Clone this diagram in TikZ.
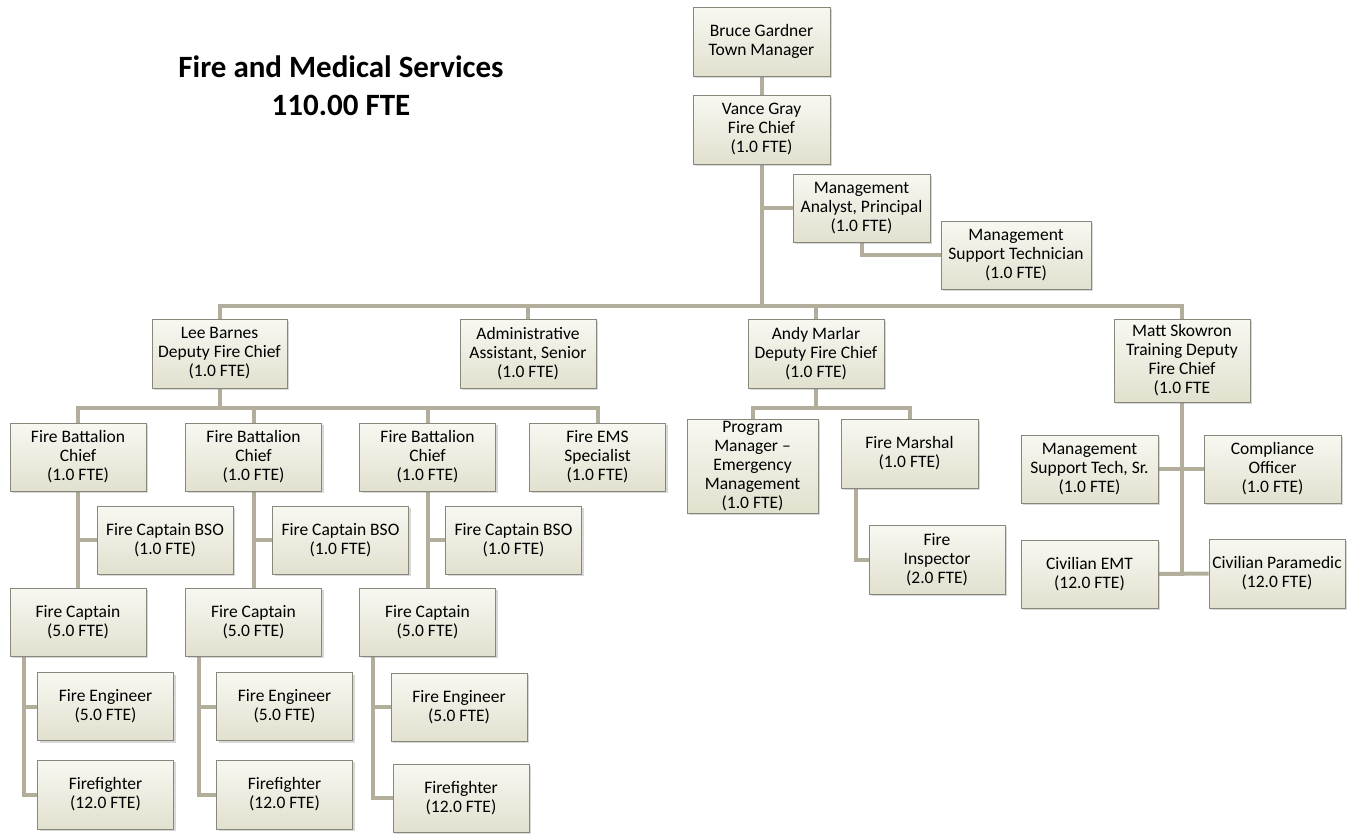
\documentclass[tikz,border=0pt]{standalone}
\usepackage{fontspec}
\setmainfont{Carlito}
\usetikzlibrary{shadows,backgrounds}

\definecolor{linetan}{RGB}{178,174,155}
\definecolor{boxtop}{RGB}{248,248,242}
\definecolor{boxbot}{RGB}{226,224,206}
\definecolor{boxedge}{RGB}{135,135,124}

\begin{document}
\begin{tikzpicture}[x=1pt,y=-1pt,
  post/.style={draw=boxedge,line width=0.8pt,top color=boxtop,bottom color=boxbot,
    minimum width=136pt,minimum height=68pt,inner sep=0pt,align=center,
    font=\fontsize{17.5}{19}\selectfont,
    drop shadow={shadow xshift=2pt,shadow yshift=-2pt,opacity=0.3}},
  link/.style={draw=linetan,line width=4pt},
  heading/.style={font=\bfseries\fontsize{31}{37}\selectfont,anchor=base,inner sep=0pt}]
  \useasboundingbox (0,0) rectangle (1349,833);
  \node[heading] (title) at (341,77) {Fire and Medical Services};
  \node[heading] (titlefte) at (341,115) {110.00 FTE};
  % top of the chart
  \node[post,minimum width=137pt,minimum height=69pt] (bruce) at (761.5,41.5) {Bruce Gardner\\Town Manager};
  \node[post,minimum width=137pt,minimum height=69pt] (vance) at (761.5,129.5) {Vance Gray\\Fire Chief\\(1.0 FTE)};
  \node[post,minimum width=137pt] (analyst) at (861.5,208) {Management\\Analyst, Principal\\(1.0 FTE)};
  \node[post,minimum width=150pt] (suptech) at (1016,255) {Management\\Support Technician\\(1.0 FTE)};
  % deputies
  \node[post,minimum width=135pt,minimum height=69pt] (lee) at (219.5,353.5) {Lee Barnes\\Deputy Fire Chief\\(1.0 FTE)};
  \node[post,minimum height=69pt] (admin) at (528,353.5) {Administrative\\Assistant, Senior\\(1.0 FTE)};
  \node[post,minimum height=69pt] (andy) at (816,353.5) {Andy Marlar\\Deputy Fire Chief\\(1.0 FTE)};
  \node[post,minimum height=83pt] (matt) at (1182,360.5) {Matt Skowron\\Training Deputy\\Fire Chief\\(1.0 FTE};
  % battalions
  \node[post] (chief1) at (78,457) {Fire Battalion\\Chief\\(1.0 FTE)};
  \node[post] (chief2) at (253.5,457) {Fire Battalion\\Chief\\(1.0 FTE)};
  \node[post] (chief3) at (427.5,457) {Fire Battalion\\Chief\\(1.0 FTE)};
  \node[post] (ems) at (597.5,457) {Fire EMS\\Specialist\\(1.0 FTE)};
  \node[post] (bso1) at (165,540) {Fire Captain BSO\\(1.0 FTE)};
  \node[post] (bso2) at (340.5,540) {Fire Captain BSO\\(1.0 FTE)};
  \node[post] (bso3) at (513.5,540) {Fire Captain BSO\\(1.0 FTE)};
  \node[post] (capt1) at (78,622) {Fire Captain\\(5.0 FTE)};
  \node[post] (capt2) at (253.5,622) {Fire Captain\\(5.0 FTE)};
  \node[post] (capt3) at (427.5,622) {Fire Captain\\(5.0 FTE)};
  \node[post] (eng1) at (105.5,706.5) {Fire Engineer\\(5.0 FTE)};
  \node[post] (eng2) at (284.5,706.5) {Fire Engineer\\(5.0 FTE)};
  \node[post] (eng3) at (459,707) {Fire Engineer\\(5.0 FTE)};
  \node[post,minimum height=69pt] (ff1) at (105.5,794.5) {Firefighter\\(12.0 FTE)};
  \node[post,minimum height=69pt] (ff2) at (284.5,794.5) {Firefighter\\(12.0 FTE)};
  \node[post] (ff3) at (461,798) {Firefighter\\(12.0 FTE)};
  % prevention
  \node[post,minimum width=131pt,minimum height=94pt] (progmgr) at (752.5,466) {Program\\Manager –\\Emergency\\Management\\(1.0 FTE)};
  \node[post,minimum width=137pt,minimum height=69pt] (marshal) at (909.5,453.5) {Fire Marshal\\(1.0 FTE)};
  \node[post,minimum height=69pt] (inspector) at (937,559.5) {Fire\\Inspector\\(2.0 FTE)};
  % training
  \node[post,minimum width=137pt] (suptechsr) at (1089.5,469) {Management\\Support Tech, Sr.\\(1.0 FTE)};
  \node[post,minimum width=137pt] (compliance) at (1272.5,469) {Compliance\\Officer\\(1.0 FTE)};
  \node[post,minimum width=137pt] (civemt) at (1089.5,574) {Civilian EMT\\(12.0 FTE)};
  \node[post,minimum height=69pt] (paramedic) at (1277,573.5) {Civilian Paramedic\\(12.0 FTE)};
  \coordinate (bus) at (0,306);\coordinate (subbus) at (0,407.5);
  \begin{scope}[on background layer]
    \fill[white](0,0)rectangle(1349,833);
    \draw[link](bruce)--(vance);
    \draw[link](vance.south)--(vance.south |- bus);
    \draw[link](analyst.west)--(analyst.west -| vance.south);
    \draw[link](analyst.south)|-(suptech.west);
    \draw[link](lee.north)|-(vance.south |- bus)-|(matt.north);
    \draw[link](admin.north)--(admin.north |- bus);\draw[link](andy.north)--(andy.north |- bus);
    \draw[link](lee.south)--(lee.south |- subbus);
    \draw[link](chief1.north)|-(ems.north |- subbus)--(ems.north);
    \draw[link](chief2.north)--(chief2.north |- subbus);\draw[link](chief3.north)--(chief3.north |- subbus);
    \draw[link](chief1.south)--(capt1.north);\draw[link](bso1.west)--(bso1.west -| chief1.south);
    \draw[link](chief2.south)--(capt2.north);\draw[link](bso2.west)--(bso2.west -| chief2.south);
    \draw[link](chief3.south)--(capt3.north);\draw[link](bso3.west)--(bso3.west -| chief3.south);
    \draw[link](capt1.south west)++(14,0)coordinate(c1)|-(ff1.west);\draw[link](eng1.west)--(eng1.west -| c1);
    \draw[link](capt2.south west)++(14,0)coordinate(c2)|-(ff2.west);\draw[link](eng2.west)--(eng2.west -| c2);
    \draw[link](capt3.south west)++(14,0)coordinate(c3)|-(ff3.west);\draw[link](eng3.west)--(eng3.west -| c3);
    \draw[link](andy.south)--(andy.south |- subbus);
    \draw[link](progmgr.north)|-(marshal.north |- subbus)--(marshal.north);
    \draw[link](marshal.south west)++(15,0)|-(inspector.west);
    \draw[link](matt.south)--(matt.south |- civemt.east);
    \draw[link](suptechsr.east)--(compliance.west);\draw[link](civemt.east)--(paramedic.west);
  \end{scope}
\end{tikzpicture}
\end{document}
